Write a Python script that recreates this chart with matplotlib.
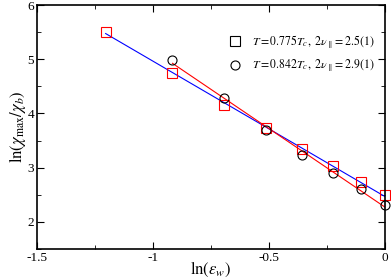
import numpy as np
import matplotlib
matplotlib.use("Agg")
import matplotlib.pyplot as plt
from matplotlib.ticker import MultipleLocator

plt.rcParams['font.family'] = ['Liberation Serif', 'DejaVu Serif']
plt.rcParams['mathtext.fontset'] = 'stix'
plt.rcParams['axes.unicode_minus'] = False

# ln(eps_w) and ln(chi_max/chi_b)
x_sq = [-1.204, -0.916, -0.693, -0.511, -0.357, -0.223, -0.105, 0.0]
y_sq = [5.51, 4.75, 4.15, 3.73, 3.35, 3.04, 2.73, 2.49]
x_ci = [-0.916, -0.693, -0.511, -0.357, -0.223, -0.105, 0.0]
y_ci = [4.98, 4.28, 3.70, 3.24, 2.90, 2.61, 2.32]

label_sq = r'$T=0.775T_c,\ 2\nu_\parallel=2.5(1)$'
label_ci = r'$T=0.842T_c,\ 2\nu_\parallel=2.9(1)$'

fig = plt.figure(figsize=(3.91, 2.79), dpi=100)
ax = fig.add_axes([0.0946, 0.1075, 0.89, 0.8745])

# linear fits
p_sq = np.polyfit(x_sq, y_sq, 1)
p_ci = np.polyfit(x_ci, y_ci, 1)
xs = np.array([min(x_sq), max(x_sq)])
xc = np.array([min(x_ci), max(x_ci)])
ax.plot(xs, np.polyval(p_sq, xs), color='blue', lw=0.8)
ax.plot(xc, np.polyval(p_ci, xc), color='red', lw=0.8)

ax.plot(x_sq, y_sq, 's', mfc='none', mec='red', ms=6.5, mew=0.8, clip_on=False)
ax.plot(x_ci, y_ci, 'o', mfc='none', mec='black', ms=6.5, mew=0.8, clip_on=False)

# legend markers are black
h1, = ax.plot([], [], 's', mfc='none', mec='black', ms=6.5, mew=0.8)
h2, = ax.plot([], [], 'o', mfc='none', mec='black', ms=6.5, mew=0.8)
ax.legend([h1, h2], [label_sq, label_ci], loc='upper right', frameon=False,
          fontsize=8.5, bbox_to_anchor=(1.0, 0.93), handletextpad=0.4,
          labelspacing=0.55)

ax.set_xlim(-1.5, 0)
ax.set_ylim(1.5, 6)
ax.xaxis.set_major_locator(MultipleLocator(0.5))
ax.xaxis.set_minor_locator(MultipleLocator(0.25))
ax.yaxis.set_major_locator(MultipleLocator(1))
ax.yaxis.set_minor_locator(MultipleLocator(0.5))
ax.xaxis.set_major_formatter(plt.FuncFormatter(lambda v, p: '%g' % v))
ax.tick_params(which='both', direction='in', top=True, right=True, labelsize=9.5)
ax.tick_params(which='major', length=5, pad=2)
ax.tick_params(which='minor', length=3)
for s in ax.spines.values():
    s.set_linewidth(1.2)

ax.set_xlabel(r'$\ln(\epsilon_w)$', fontsize=12, labelpad=-3)
ax.set_ylabel(r'$\ln(\chi_{\rm max}/\chi_b)$', fontsize=12, labelpad=0)

fig.savefig('out.png', dpi=100)
